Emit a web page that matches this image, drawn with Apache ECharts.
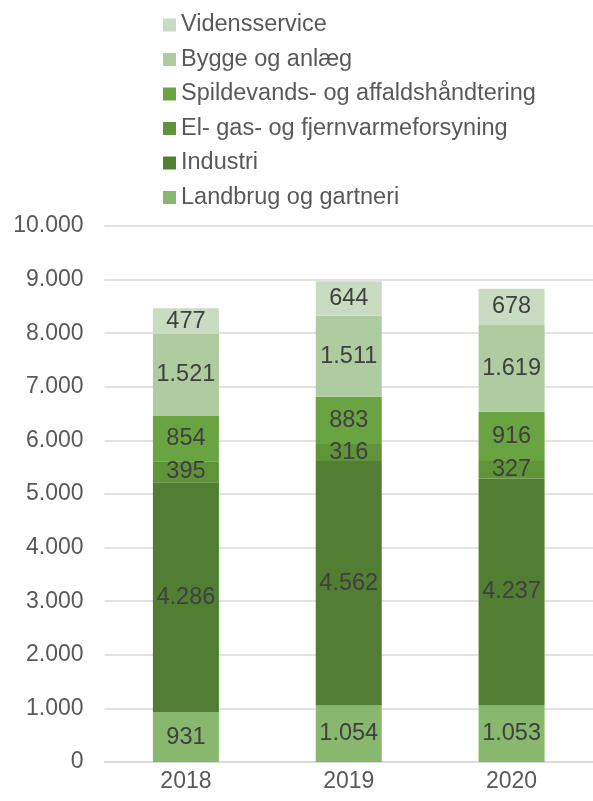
<!DOCTYPE html>
<html>
<head>
<meta charset="utf-8">
<script src="https://cdn.jsdelivr.net/npm/echarts@6/dist/echarts.min.js"></script>
<style>
  html, body { margin: 0; padding: 0; background: #fff; }
  #chart { width: 593px; height: 801px; }
</style>
</head>
<body>
<div id="chart"></div>
<script>
const years = ["2018", "2019", "2020"];
const seriesNames = [
  "Landbrug og gartneri",
  "Industri",
  "El- gas- og fjernvarmeforsyning",
  "Spildevands- og affaldshåndtering",
  "Bygge og anlæg",
  "Vidensservice"
];
const landbrug = [931, 1054, 1053];
const industri = [4286, 4562, 4237];
const elGas = [395, 316, 327];
const spildevand = [854, 883, 916];
const bygge = [1521, 1511, 1619];
const viden = [477, 644, 678];
const colors = ["#88b86e", "#517e33", "#5f9439", "#6aa341", "#aecc9f", "#c9dcc1"];

const values = [landbrug, industri, elGas, spildevand, bygge, viden];

// dansk tusindtalsseparator
function fmt(v) {
  return String(v).replace(/\B(?=(\d{3})+(?!\d))/g, ".");
}

const chart = echarts.init(document.getElementById("chart"));

const series = seriesNames.map((name, i) => ({
  name: name,
  type: "bar",
  stack: "total",
  data: values[i],
  barWidth: 66,
  itemStyle: { color: colors[i] },
  label: {
    show: true,
    position: "inside",
    color: "#404040",
    fontSize: 23.5,
    fontFamily: "Liberation Sans",
    formatter: p => fmt(p.value)
  }
}));

chart.setOption({
  animation: false,
  textStyle: { fontFamily: "Liberation Sans" },
  legend: {
    orient: "vertical",
    left: 158,
    top: 8,
    data: seriesNames.slice().reverse(),
    itemWidth: 13,
    itemHeight: 13,
    itemGap: 10.5,
    icon: "rect",
    textStyle: { fontSize: 23.5, color: "#595959", lineHeight: 24 }
  },
  grid: {
    left: 104.5,
    right: -7,
    top: 226,
    bottom: 39,
    containLabel: false
  },
  xAxis: {
    type: "category",
    data: years,
    axisTick: { show: false },
    axisLine: { lineStyle: { color: "#d9d9d9", width: 1.5 } },
    axisLabel: { color: "#595959", fontSize: 23, margin: 8 }
  },
  yAxis: {
    type: "value",
    min: 0,
    max: 10000,
    interval: 1000,
    axisLine: { show: false },
    axisTick: { show: false },
    splitLine: { lineStyle: { color: "#d9d9d9", width: 1.5 } },
    axisLabel: {
      color: "#595959",
      fontSize: 23,
      margin: 21,
      formatter: v => fmt(v)
    }
  },
  series: series
});
</script>
</body>
</html>
